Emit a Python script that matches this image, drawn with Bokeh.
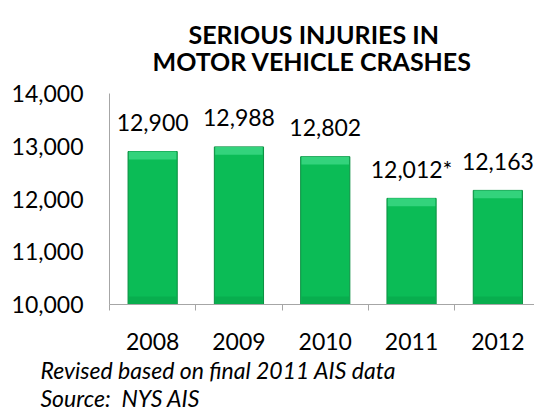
from bokeh.plotting import figure
from bokeh.models import FixedTicker, NumeralTickFormatter, Title, Range1d
from bokeh.core.properties import value
from bokeh.embed import file_html
from bokeh.resources import INLINE

years = ["2008", "2009", "2010", "2011", "2012"]
injuries = [12900, 12988, 12802, 12012, 12163]
value_labels = ["12,900", "12,988", "12,802", "12,012*", "12,163"]
y_ticks = [10000, 11000, 12000, 13000, 14000]
title_lines = ["SERIOUS INJURIES IN", "MOTOR VEHICLE CRASHES"]
footnotes = ["Revised based on final 2011 AIS data", "Source:\u00a0 NYS AIS"]

xs = [i + 0.5 for i in range(len(years))]
bounds = [i for i in range(len(years) + 1)]
FONT = "Lato"
GRAY = "#A6A6A6"
CAT_PX = 86.3          # pixel width of one category
FRAME_LEFT = 109

p = figure(width=534, height=411,
           x_range=Range1d(0, (534 - FRAME_LEFT) / CAT_PX),
           y_range=Range1d(10000, 14000),
           output_backend="svg", toolbar_location=None,
           min_border_left=FRAME_LEFT, min_border_right=0,
           min_border_top=93, min_border_bottom=107)
p.outline_line_color = None
p.xgrid.visible = False
p.ygrid.visible = False

# x axis
p.xaxis.ticker = FixedTicker(ticks=xs, minor_ticks=bounds)
p.xaxis.major_label_overrides = {x: y for x, y in zip(xs, years)}
p.xaxis.major_tick_line_color = None
p.xaxis.major_tick_out = 0
p.xaxis.major_tick_in = 0
p.xaxis.minor_tick_line_color = GRAY
p.xaxis.minor_tick_out = 6
p.xaxis.minor_tick_in = 0
p.xaxis.axis_line_color = GRAY
p.xaxis.major_label_text_font = FONT
p.xaxis.major_label_text_font_size = "23px"
p.xaxis.major_label_text_color = "#000000"
p.xaxis.major_label_standoff = 22

# y axis
p.yaxis.ticker = FixedTicker(ticks=y_ticks)
p.yaxis.formatter = NumeralTickFormatter(format="0,0")
p.yaxis.major_tick_line_color = None
p.yaxis.minor_tick_line_color = None
p.yaxis.major_tick_out = 0
p.yaxis.major_tick_in = 0
p.yaxis.axis_line_color = GRAY
p.yaxis.major_label_text_font = FONT
p.yaxis.major_label_text_font_size = "23px"
p.yaxis.major_label_text_color = "#000000"
p.yaxis.major_label_standoff = 26

# bars with bevel
BEVEL = 150
p.vbar(x=xs, top=injuries, bottom=10000, width=0.57,
       fill_color="#0BBC56", line_color="#0A8F40", line_width=1)
p.vbar(x=xs, top=injuries, bottom=[v - BEVEL for v in injuries], width=0.55,
       fill_color="#33D37C", line_color=None)
p.vbar(x=xs, top=10000 + BEVEL, bottom=10000, width=0.55,
       fill_color="#08AE4E", line_color=None)

# value labels
p.text(x=xs, y=injuries, text=value_labels, y_offset=-29,
       text_align="center", text_baseline="alphabetic",
       text_font=value(FONT), text_font_size="23px", text_color="#000000")

# title (inner line added first)
for txt, so, off in zip(reversed(title_lines), [36, -46], [43, 79]):
    p.add_layout(Title(text=txt, align="left", offset=off, standoff=so,
                       text_font=FONT, text_font_size="25px",
                       text_font_style="bold", text_color="#000000"), "above")

# footnotes
for txt, so in zip(footnotes, [2, -6]):
    p.add_layout(Title(text=txt, align="left", offset=40 - FRAME_LEFT, standoff=so,
                       text_font=FONT, text_font_size="23px",
                       text_font_style="italic", text_color="#000000"), "below")

open("out.html", "w").write(file_html(p, INLINE))
